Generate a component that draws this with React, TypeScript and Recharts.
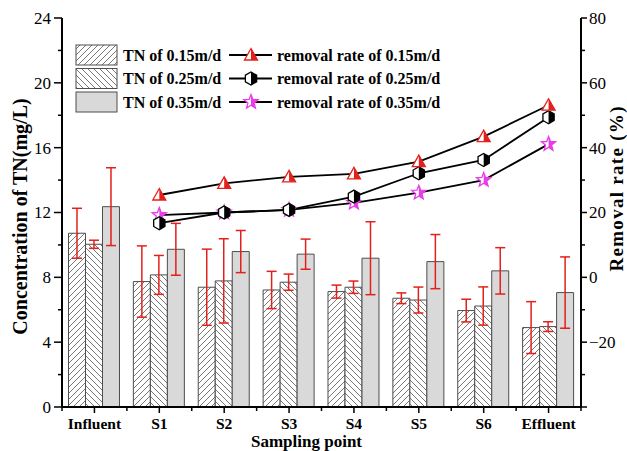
import React from 'react';
import { ComposedChart, Bar, Line, XAxis, YAxis, ErrorBar, Legend } from 'recharts';

const categories = ['Influent', 'S1', 'S2', 'S3', 'S4', 'S5', 'S6', 'Effluent'];

// TN concentration (mg/L) and error (±)
const tn015 = [10.72, 7.74, 7.39, 7.22, 7.12, 6.71, 5.95, 4.9];
const tn015Err = [1.54, 2.2, 2.35, 1.15, 0.4, 0.33, 0.7, 1.6];
const tn025 = [10.04, 8.15, 7.78, 7.7, 7.39, 6.6, 6.23, 4.96];
const tn025Err = [0.25, 1.2, 2.6, 0.5, 0.38, 0.8, 1.18, 0.3];
const tn035 = [12.36, 9.73, 9.59, 9.43, 9.18, 8.97, 8.4, 7.06];
const tn035Err = [2.4, 1.6, 1.3, 0.93, 2.25, 1.67, 1.43, 2.2];

// removal rate (%), no value at the influent
const rr015 = [null, 25.4, 29.0, 31.0, 31.9, 35.7, 43.4, 53.1];
const rr025 = [null, 16.7, 20.0, 20.8, 24.9, 32.1, 36.2, 49.4];
const rr035 = [null, 19.2, 20.0, 20.8, 23.0, 26.1, 30.0, 41.1];

const leftTicks = [0, 2, 4, 6, 8, 10, 12, 14, 16, 18, 20, 22, 24];
const rightTicks = [-40, -30, -20, -10, 0, 10, 20, 30, 40, 50, 60, 70, 80];

const FONT = 'Liberation Serif, DejaVu Serif, serif';
const RED = '#e3201b';
const MAGENTA = '#e83ce8';

const data = categories.map((name, i) => ({
  name,
  tn015: tn015[i],
  e015: tn015Err[i],
  tn025: tn025[i],
  e025: tn025Err[i],
  tn035: tn035[i],
  e035: tn035Err[i],
  rr015: rr015[i],
  rr025: rr025[i],
  rr035: rr035[i],
}));

const triPts = (cx: number, cy: number) =>
  `${cx},${cy - 6.5} ${cx + 6.5},${cy + 5} ${cx - 6.5},${cy + 5}`;

const hexPts = (cx: number, cy: number) => {
  const r = 6.5;
  return [-90, -30, 30, 90, 150, 210]
    .map(a => `${cx + r * Math.cos((a * Math.PI) / 180)},${cy + r * Math.sin((a * Math.PI) / 180)}`)
    .join(' ');
};

const starPts = (cx: number, cy: number) => {
  const pts: string[] = [];
  for (let k = 0; k < 10; k++) {
    const r = k % 2 === 0 ? 7.5 : 3.2;
    const a = ((-90 + k * 36) * Math.PI) / 180;
    pts.push(`${cx + r * Math.cos(a)},${cy + r * Math.sin(a)}`);
  }
  return pts.join(' ');
};

// half filled symbol: white left half, coloured right half
const HalfSymbol = ({ pts, color }: { pts: string; color: string }) => (
  <g>
    <polygon points={pts} fill="#fff" />
    <polygon points={pts} fill={color} clipPath="url(#rightHalf)" />
    <polygon points={pts} fill="none" stroke={color} strokeWidth={1.3} />
  </g>
);

const makeDot = (kind: string) => (props: any) => {
  const { cx, cy, index, value } = props;
  if (value == null || cy == null || isNaN(cy)) return <g key={index} />;
  if (kind === 'tri') return <g key={index}><HalfSymbol pts={triPts(cx, cy)} color={RED} /></g>;
  if (kind === 'hex') return <g key={index}><HalfSymbol pts={hexPts(cx, cy)} color="#000" /></g>;
  return <g key={index}><HalfSymbol pts={starPts(cx, cy)} color={MAGENTA} /></g>;
};

const txt = (size: number, bold = false): React.CSSProperties => ({
  fontFamily: FONT,
  fontSize: size,
  fontWeight: bold ? 'bold' : 'normal',
});

const LeftTick = (props: any) => {
  const { x, y, payload } = props;
  const ax = x + 11;
  const v = payload.value;
  const major = v % 4 === 0;
  return (
    <g>
      <line x1={ax - (major ? 8 : 4)} x2={ax} y1={y} y2={y} stroke="#000" strokeWidth={1.5} />
      {major && (
        <text x={x} y={y} dy="0.35em" textAnchor="end" style={txt(17)} fill="#000">
          {v}
        </text>
      )}
    </g>
  );
};

const RightTick = (props: any) => {
  const { x, y, payload } = props;
  const ax = x - 8;
  const v = payload.value;
  const major = v % 20 === 0;
  return (
    <g>
      <line x1={ax} x2={ax + (major ? 6 : 4)} y1={y} y2={y} stroke="#000" strokeWidth={1.5} />
      {major && v > -40 && (
        <text x={x} y={y} dy="0.35em" textAnchor="start" style={txt(17)} fill="#000">
          {v < 0 ? `\u2212${Math.abs(v)}` : v}
        </text>
      )}
    </g>
  );
};

const XTick = (props: any) => {
  const { x, y, payload, index } = props;
  const ay = y - 8;
  const half = payload.offset || 519 / 16;
  return (
    <g>
      <line x1={x} x2={x} y1={ay} y2={ay + 6} stroke="#000" strokeWidth={1.5} />
      <line x1={x + half} x2={x + half} y1={ay} y2={ay + 4} stroke="#000" strokeWidth={1.5} />
      {index === 0 && <line x1={x - half} x2={x - half} y1={ay} y2={ay + 4} stroke="#000" strokeWidth={1.5} />}
      <text x={x} y={ay + 21.5} textAnchor="middle" style={txt(15.5, true)} fill="#000">
        {payload.value}
      </text>
    </g>
  );
};

const xTitle = (props: any) => {
  const vb = props.viewBox;
  return (
    <text x={vb.x + vb.width / 2 - 15} y={vb.y + 40} textAnchor="middle" style={txt(17, true)} fill="#000">
      Sampling point
    </text>
  );
};

const leftTitle = (props: any) => {
  const vb = props.viewBox;
  const cx = vb.x + 20;
  const cy = vb.y + vb.height / 2 + 4;
  return (
    <text x={cx} y={cy} dy="0.35em" textAnchor="middle" transform={`rotate(-90 ${cx} ${cy})`} style={txt(20, true)} fill="#000">
      Concentration of TN(mg/L)
    </text>
  );
};

const rightTitle = (props: any) => {
  const vb = props.viewBox;
  const bx = vb.x + 42;
  const cy = 189;
  return (
    <text x={bx} y={cy} textAnchor="middle" transform={`rotate(-90 ${bx} ${cy})`} style={txt(19, true)} textLength={165} lengthAdjust="spacing" fill="#000">
      Removal rate (%)
    </text>
  );
};

const barNames = ['TN of 0.15m/d', 'TN of 0.25m/d', 'TN of 0.35m/d'];
const lineNames = ['removal rate of 0.15m/d', 'removal rate of 0.25m/d', 'removal rate of 0.35m/d'];
const barFills = ['url(#hatchFwd)', 'url(#hatchBack)', '#d9d9d9'];

const LegendBox = () => (
  <svg width={380} height={72} style={{ display: 'block' }}>
    {barNames.map((n, i) => {
      const top = 1 + i * 23.5;
      const cy = top + 10;
      const pts = i === 0 ? triPts(176, cy) : i === 1 ? hexPts(176, cy) : starPts(176, cy);
      const color = i === 0 ? RED : i === 1 ? '#000' : MAGENTA;
      return (
        <g key={n}>
          <rect x={1} y={top} width={41} height={20} fill={barFills[i]} stroke="#4d4d4d" strokeWidth={1} />
          <text x={48} y={top + 15.5} style={txt(16, true)} fill="#000">{n}</text>
          <line x1={154} x2={197} y1={cy} y2={cy} stroke="#000" strokeWidth={1.8} />
          <HalfSymbol pts={pts} color={color} />
          <text x={202} y={top + 15.5} style={txt(16, true)} fill="#000">{lineNames[i]}</text>
        </g>
      );
    })}
  </svg>
);

export default function App() {
  return (
    <div style={{ position: 'absolute', left: 0, top: 0, width: 627, height: 451, background: '#fff' }}>
      <ComposedChart
        width={627}
        height={451}
        data={data}
        margin={{ top: 18, right: 0, bottom: 0, left: 0 }}
        barCategoryGap="10%"
        barGap={0}
      >
        <defs>
          <pattern id="hatchFwd" patternUnits="userSpaceOnUse" width={6} height={6}>
            <rect width={6} height={6} fill="#fff" />
            <path d="M-1,1 l2,-2 M0,6 l6,-6 M5,7 l2,-2" stroke="#555" strokeWidth={0.8} />
          </pattern>
          <pattern id="hatchBack" patternUnits="userSpaceOnUse" width={6} height={6}>
            <rect width={6} height={6} fill="#fff" />
            <path d="M-1,5 l2,2 M0,0 l6,6 M5,-1 l2,2" stroke="#555" strokeWidth={0.8} />
          </pattern>
          <clipPath id="rightHalf" clipPathUnits="objectBoundingBox">
            <rect x={0.5} y={0} width={0.5} height={1} />
          </clipPath>
        </defs>
        <XAxis
          dataKey="name"
          height={44}
          interval={0}
          tickSize={6}
          tickMargin={2}
          tickLine={false}
          tick={<XTick />}
          axisLine={{ stroke: '#000', strokeWidth: 2 }}
          label={xTitle}
        />
        <XAxis xAxisId="top" orientation="top" dataKey="name" height={0} tick={false} tickLine={false} axisLine={{ stroke: '#000', strokeWidth: 2 }} />
        <YAxis
          yAxisId="left"
          width={62}
          domain={[0, 24]}
          ticks={leftTicks}
          interval={0}
          tickSize={8}
          tickMargin={3}
          tickLine={false}
          tick={<LeftTick />}
          axisLine={{ stroke: '#000', strokeWidth: 2 }}
          label={leftTitle}
        />
        <YAxis
          yAxisId="right"
          orientation="right"
          width={46}
          domain={[-40, 80]}
          ticks={rightTicks}
          interval={0}
          tickSize={6}
          tickMargin={2}
          tickLine={false}
          tick={<RightTick />}
          axisLine={{ stroke: '#000', strokeWidth: 2 }}
          label={rightTitle}
        />
        <Bar yAxisId="left" dataKey="tn015" fill="url(#hatchFwd)" stroke="#4d4d4d" strokeWidth={1} isAnimationActive={false}>
          <ErrorBar dataKey="e015" width={5} stroke={RED} strokeWidth={1.5} />
        </Bar>
        <Bar yAxisId="left" dataKey="tn025" fill="url(#hatchBack)" stroke="#4d4d4d" strokeWidth={1} isAnimationActive={false}>
          <ErrorBar dataKey="e025" width={5} stroke={RED} strokeWidth={1.5} />
        </Bar>
        <Bar yAxisId="left" dataKey="tn035" fill="#d9d9d9" stroke="#4d4d4d" strokeWidth={1} isAnimationActive={false}>
          <ErrorBar dataKey="e035" width={5} stroke={RED} strokeWidth={1.5} />
        </Bar>
        <Line yAxisId="right" dataKey="rr035" stroke="#000" strokeWidth={1.8} dot={makeDot('star')} activeDot={false} isAnimationActive={false} />
        <Line yAxisId="right" dataKey="rr025" stroke="#000" strokeWidth={1.8} dot={makeDot('hex')} activeDot={false} isAnimationActive={false} />
        <Line yAxisId="right" dataKey="rr015" stroke="#000" strokeWidth={1.8} dot={makeDot('tri')} activeDot={false} isAnimationActive={false} />
        <Legend
          layout="horizontal"
          verticalAlign="middle"
          align="center"
          content={LegendBox}
          wrapperStyle={{ position: 'absolute', left: 75, top: 44, width: 380, height: 72 }}
        />
      </ComposedChart>
    </div>
  );
}
